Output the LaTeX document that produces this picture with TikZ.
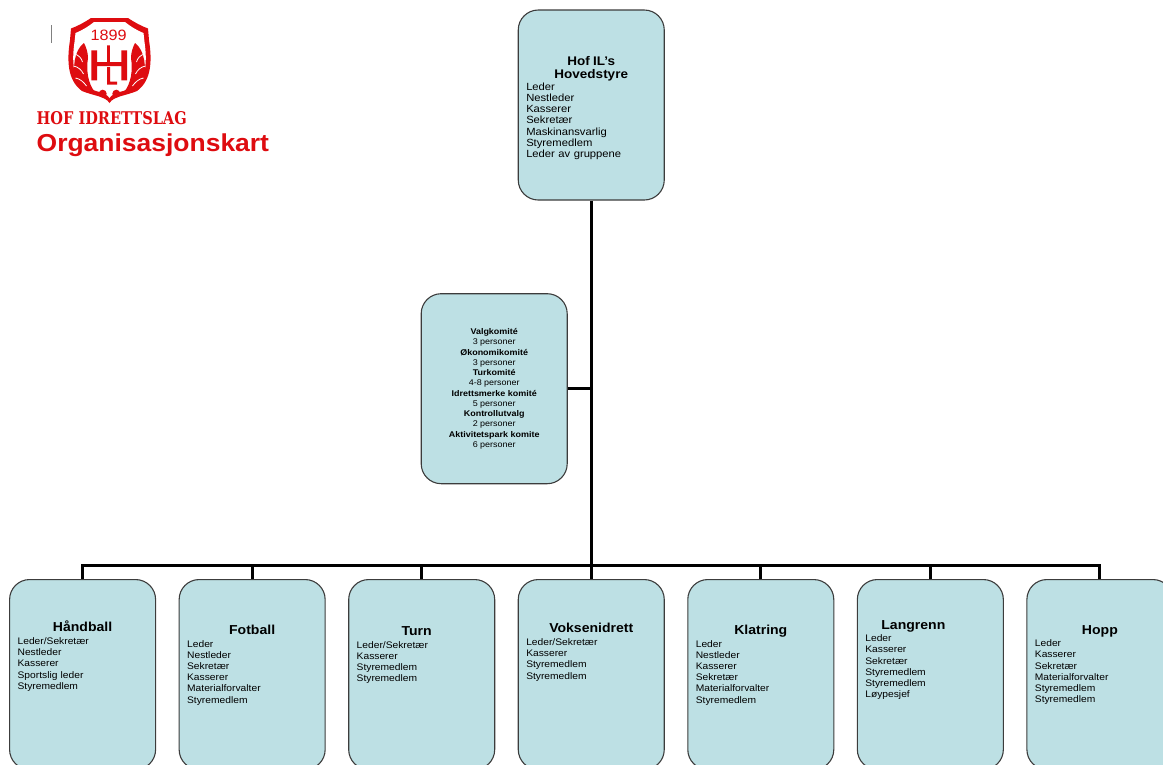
\documentclass[tikz,border=0pt]{standalone}
\usepackage{fontspec}
\setmainfont{Liberation Sans}[FakeStretch=1.08]
\newfontfamily\logofont{DejaVu Serif}
\usetikzlibrary{positioning}
\definecolor{boxfill}{RGB}{189,224,228}
\definecolor{boxline}{RGB}{60,60,60}
\definecolor{hofred}{RGB}{222,12,16}
\tikzset{
    x=1pt, y=-1pt, % work in pixels of the page, y going down
    unit/.style={ % Sets the properties for each box of the chart
        draw=boxline, fill=boxfill, line width=1.1pt,
        rounded corners=20pt,
        minimum width=146pt, minimum height=190pt
    },
    members/.style={ % Title and roles written inside a box
        text width=130pt, align=left, inner sep=0pt,
        font=\fontsize{9.5}{11.2}\selectfont
    },
    link/.style={line width=3pt}, % Lines between the boxes
}
\newcommand\boxhead[2][13]{\makebox[\linewidth]{\fontsize{#1}{#1}\selectfont\bfseries #2}}

\begin{document}
\begin{tikzpicture}
    \useasboundingbox (0,0) rectangle (1163,764);
    % emblem of the club
    \draw[gray, line width=1pt] (51,25) -- (51,43);
    \fill[hofred] (91,18) -- (128,18) .. controls (134,22) and (141,26) .. (148,28.5)
        -- (149,40) .. controls (152,60) and (152,80) .. (137,91)
        .. controls (125,96) and (114,96) .. (109.5,103)
        .. controls (105,96) and (94,96) .. (82,91)
        .. controls (67,80) and (67,60) .. (70,40)
        -- (71,28.5) .. controls (78,26) and (85,22) .. (91,18) -- cycle;
    \fill[white] (94,22) -- (125,22) .. controls (130,26) and (136,30) .. (143.5,33)
        -- (144.5,42) .. controls (147,60) and (147,77) .. (134,87)
        .. controls (123,92) and (113,92) .. (109.5,98)
        .. controls (106,92) and (96,92) .. (85,87)
        .. controls (72,77) and (72,60) .. (74.5,42)
        -- (75.5,33) .. controls (83,30) and (89,26) .. (94,22) -- cycle;
    \foreach \s in {1,-1} {
        \begin{scope}[shift={(109.5,0)}, xscale=\s]
            \fill[hofred] (-25.5,43) .. controls (-35.5,50) and (-37.5,70) .. (-33.5,80)
                .. controls (-29.5,88) and (-21.5,91) .. (-14.5,92)
                .. controls (-21.5,84) and (-23.5,70) .. (-21.5,58)
                .. controls (-21.5,52) and (-23.5,47) .. (-25.5,43) -- cycle;
            \draw[white, line width=0.8pt] (-35,54) .. controls (-31,55) and (-28,58) .. (-27,62)
                (-36,66) .. controls (-31,67) and (-28,70) .. (-26,74)
                (-34,78) .. controls (-29,79) and (-26,82) .. (-23,86);
            \fill[hofred] (-6.8,93.7) circle (4);
        \end{scope}
    }
    \node[text=hofred, inner sep=0pt, font=\fontsize{15}{15}\selectfont] (year) at (108.7,35.8) {1899};
    \fill[hofred] (91.3,50.3) rectangle (97,80.3)
                  (121.3,50.3) rectangle (127,80.3)
                  (97,62) rectangle (121.3,66)
                  (107,45.3) rectangle (109.8,62)
                  (107,67) rectangle (110,84.7)
                  (107,81.7) rectangle (117,84.7);
    \node[anchor=west, inner sep=0pt, text=hofred] (club) at (36.5,118.5)
        {\resizebox{150pt}{13pt}{\logofont\bfseries HOF IDRETTSLAG}};
    \node[anchor=base west, inner sep=0pt, text=hofred,
          font=\fontsize{24.5}{24.5}\selectfont\bfseries] (heading) at (36.5,151.7) {Organisasjonskart};

    % boxes
    \node[unit] (hoved) at (591.25,105) {};
    \node[members, below=46.5pt of hoved.north, font=\fontsize{10.4}{11.1}\selectfont] (hovedtxt)
        {\boxhead[12.5]{Hof IL’s}\\[1.8pt] \boxhead[12.5]{Hovedstyre}\\[1.4pt]
         Leder\\ Nestleder\\ Kasserer\\ Sekretær\\ Maskinansvarlig\\ Styremedlem\\ Leder av gruppene};
    \node[unit, align=center, font=\fontsize{8.3}{10.25}\selectfont] (komite) at (494.2,388.7)
        {\textbf{Valgkomité}\\ 3 personer\\ \textbf{Økonomikomité}\\ 3 personer\\
         \textbf{Turkomité}\\ 4-8 personer\\ \textbf{Idrettsmerke komité}\\ 5 personer\\
         \textbf{Kontrollutvalg}\\ 2 personer\\ \textbf{Aktivitetspark komite}\\ 6 personer};

    \node[unit, anchor=north]        (hand) at (82.6,579) {};
    \node[unit, right=22.45pt of hand] (fot)  {};
    \node[unit, right=22.45pt of fot]  (turn) {};
    \node[unit, right=22.45pt of turn] (vok)  {};
    \node[unit, right=22.45pt of vok]  (klat) {};
    \node[unit, right=22.45pt of klat] (lang) {};
    \node[unit, right=22.45pt of lang] (hopp) {};

    \node[members, below=42pt of hand.north] (handtxt)
        {\boxhead{Håndball}\\[1.3pt] Leder/Sekretær\\ Nestleder\\ Kasserer\\ Sportslig leder\\ Styremedlem};
    \node[members, below=46pt of fot.north] (fottxt)
        {\boxhead{Fotball}\\[1.3pt] Leder\\ Nestleder\\ Sekretær\\ Kasserer\\ Materialforvalter\\ Styremedlem};
    \node[members, below=47.7pt of turn.north] (turntxt)
        {\boxhead{Turn\hspace*{10pt}}\\[1.3pt] Leder/Sekretær\\ Kasserer\\ Styremedlem\\ Styremedlem};
    \node[members, below=44.3pt of vok.north] (voktxt)
        {\boxhead{Voksenidrett}\\[1.3pt] Leder/Sekretær\\ Kasserer\\ Styremedlem\\ Styremedlem};
    \node[members, below=46pt of klat.north] (klattxt)
        {\boxhead{Klatring}\\[1.3pt] Leder\\ Nestleder\\ Kasserer\\ Sekretær\\ Materialforvalter\\ Styremedlem};
    \node[members, below=41pt of lang.north] (langtxt)
        {\boxhead{Langrenn\hspace*{34pt}}\\[1.3pt] Leder\\ Kasserer\\ Sekretær\\ Styremedlem\\ Styremedlem\\ Løypesjef};
    \node[members, below=46pt of hopp.north] (hopptxt)
        {\boxhead{Hopp}\\[1.3pt] Leder\\ Kasserer\\ Sekretær\\ Materialforvalter\\ Styremedlem\\ Styremedlem};

    % connectors
    \coordinate[above=14pt of vok.north] (fork);
    \draw[link] (hoved.south) -- (fork);
    \draw[link] (komite.east) -- (komite.east -| fork);
    \draw[link] (hand.north) |- (fork);
    \draw[link] (fot.north)  |- (fork);
    \draw[link] (turn.north) |- (fork);
    \draw[link] (vok.north)  -- (fork);
    \draw[link] (klat.north) |- (fork);
    \draw[link] (lang.north) |- (fork);
    \draw[link] (hopp.north) |- (fork);
\end{tikzpicture}
\end{document}
